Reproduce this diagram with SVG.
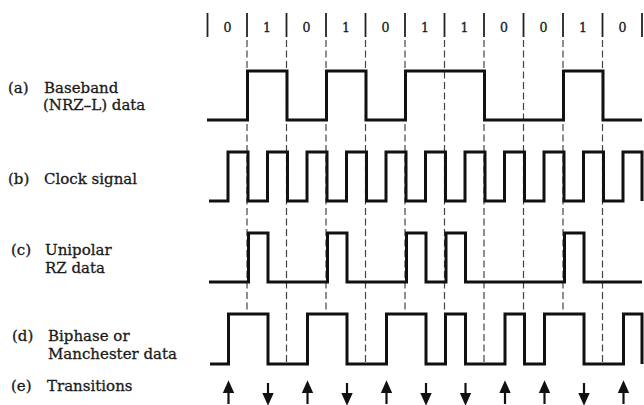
<svg xmlns="http://www.w3.org/2000/svg" width="644" height="405" viewBox="0 0 644 405">
<style>
  .lbl { font-family: "DejaVu Serif", "Liberation Serif", serif; font-size: 15px; fill: #1a1a1a; stroke: #1a1a1a; stroke-width: 0.3; }
  .bit { font-family: "DejaVu Serif", "Liberation Serif", serif; font-size: 12.5px; fill: #1a1a1a; stroke: #1a1a1a; stroke-width: 0.3; text-anchor: middle; }
  .wave { fill: none; stroke: #111; stroke-width: 3; stroke-linejoin: miter; stroke-linecap: butt; }
  .bar { stroke: #222; stroke-width: 1.8; }
  .dash { stroke: #444; stroke-width: 1.2; stroke-dasharray: 7 3.5; fill: none; }
  .arrow { fill: #111; stroke: #111; stroke-width: 2.2; }
</style>
<defs>
  <g id="up"><line x1="0" y1="388" x2="0" y2="404" class="arrow"/><path d="M-4,392 L0,383 L4,392 Z" class="arrow" stroke-width="0.8"/></g>
  <g id="down"><line x1="0" y1="383" x2="0" y2="398" class="arrow"/><path d="M-4,394 L0,403 L4,394 Z" class="arrow" stroke-width="0.8"/></g>
</defs>
<rect width="644" height="405" fill="#fff"/>

<g id="bit-row">
  <line class="bar" x1="207.5" y1="13" x2="207.5" y2="37"/>
  <line class="bar" x1="247" y1="13" x2="247" y2="37"/>
  <line class="bar" x1="286.5" y1="13" x2="286.5" y2="37"/>
  <line class="bar" x1="326" y1="13" x2="326" y2="37"/>
  <line class="bar" x1="365.5" y1="13" x2="365.5" y2="37"/>
  <line class="bar" x1="405" y1="13" x2="405" y2="37"/>
  <line class="bar" x1="444.5" y1="13" x2="444.5" y2="37"/>
  <line class="bar" x1="484" y1="13" x2="484" y2="37"/>
  <line class="bar" x1="523.5" y1="13" x2="523.5" y2="37"/>
  <line class="bar" x1="563" y1="13" x2="563" y2="37"/>
  <line class="bar" x1="602.5" y1="13" x2="602.5" y2="37"/>
  <line class="bar" x1="642" y1="13" x2="642" y2="37"/>
  <text class="bit" x="227.5" y="31.5">0</text>
  <text class="bit" x="267" y="31.5">1</text>
  <text class="bit" x="306.5" y="31.5">0</text>
  <text class="bit" x="346" y="31.5">1</text>
  <text class="bit" x="385.5" y="31.5">0</text>
  <text class="bit" x="425" y="31.5">1</text>
  <text class="bit" x="464.5" y="31.5">1</text>
  <text class="bit" x="504" y="31.5">0</text>
  <text class="bit" x="543.5" y="31.5">0</text>
  <text class="bit" x="583" y="31.5">1</text>
  <text class="bit" x="622.5" y="31.5">0</text>
</g>

<g id="connectors">
  <line class="dash" x1="247" y1="40" x2="247" y2="314"/>
  <line class="dash" x1="286.5" y1="40" x2="286.5" y2="363"/>
  <line class="dash" x1="326" y1="40" x2="326" y2="314"/>
  <line class="dash" x1="365.5" y1="40" x2="365.5" y2="363"/>
  <line class="dash" x1="405" y1="40" x2="405" y2="314"/>
  <line class="dash" x1="444.5" y1="40" x2="444.5" y2="314"/>
  <line class="dash" x1="484" y1="40" x2="484" y2="363"/>
  <line class="dash" x1="523.5" y1="40" x2="523.5" y2="314"/>
  <line class="dash" x1="563" y1="40" x2="563" y2="314"/>
  <line class="dash" x1="602.5" y1="40" x2="602.5" y2="363"/>
</g>

<g id="a-nrz">
  <text class="lbl" x="8" y="93">(a)</text>
  <text class="lbl" x="44" y="93">Baseband</text>
  <text class="lbl" x="43" y="110">(NRZ–L) data</text>
  <path class="wave" d="M207,120 H247.5 V71 H287 V120 H326.5 V71 H366 V120 H405.5 V71 H484.5 V120 H563.5 V71 H603 V120 H642"/>
</g>

<g id="b-clock">
  <text class="lbl" x="8" y="184">(b)</text>
  <text class="lbl" x="44" y="184">Clock signal</text>
  <path class="wave" d="M209,201 H228 V152 H248 V201 H267.5 V152 H287.5 V201 H307 V152 H327 V201 H346.5 V152 H366.5 V201 H386 V152 H406 V201 H425.5 V152 H445.5 V201 H465 V152 H485 V201 H504.5 V152 H524.5 V201 H544 V152 H564 V201 H583.5 V152 H603.5 V201 H623 V152 H642 V201"/>
</g>

<g id="c-rz">
  <text class="lbl" x="11" y="255">(c)</text>
  <text class="lbl" x="45" y="255">Unipolar</text>
  <text class="lbl" x="45" y="273">RZ data</text>
  <path class="wave" d="M209,282 H248.5 V233 H268 V282 H327.5 V233 H347 V282 H406.5 V233 H426 V282 H446 V233 H465.5 V282 H564.5 V233 H584 V282 H642"/>
</g>

<g id="d-manchester">
  <text class="lbl" x="12" y="341">(d)</text>
  <text class="lbl" x="48" y="341">Biphase or</text>
  <text class="lbl" x="48" y="359">Manchester data</text>
  <path class="wave" d="M210,364 H228.5 V314 H268 V364 H307.5 V314 H347 V364 H386.5 V314 H426 V364 H445.5 V314 H465.5 V364 H505 V314 H524.5 V364 H544.5 V314 H584 V364 H623.5 V314 H642 V364"/>
</g>

<g id="e-transitions">
  <text class="lbl" x="11" y="391">(e)</text>
  <text class="lbl" x="47" y="391">Transitions</text>
  <use href="#up" x="228.5"/>
  <use href="#down" x="268"/>
  <use href="#up" x="307.5"/>
  <use href="#down" x="347"/>
  <use href="#up" x="386.5"/>
  <use href="#down" x="426"/>
  <use href="#down" x="465.5"/>
  <use href="#up" x="505"/>
  <use href="#up" x="544.5"/>
  <use href="#down" x="584"/>
  <use href="#up" x="623.5"/>
</g>
</svg>
